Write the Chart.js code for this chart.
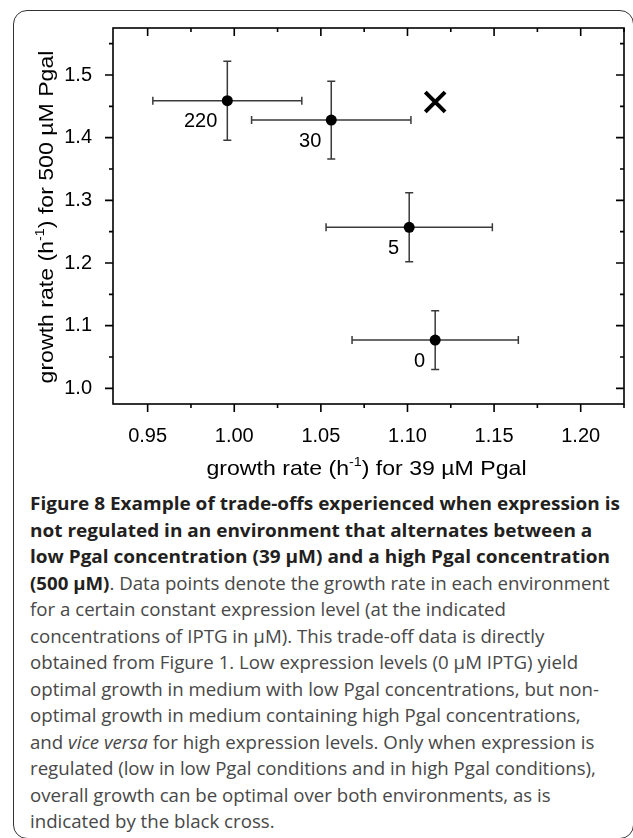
<!DOCTYPE html>
<html>
<head>
<meta charset="utf-8">
<script src="https://cdn.jsdelivr.net/npm/chart.js@4/dist/chart.umd.min.js"></script>
<style>
  html, body { margin: 0; padding: 0; background: #fff; }
  body { width: 633px; height: 838px; position: relative; overflow: hidden; }
  #box {
    position: absolute; left: 13px; top: 10px; width: 621px; height: 829px;
    box-sizing: border-box; border: 1.5px solid #333; border-radius: 14px;
  }
  #plot { position: absolute; left: 0; top: 0; }
  #caption {
    position: absolute; left: 30px; top: 490px;
    font-family: "Open Sans", sans-serif; font-size: 18px; line-height: 26.5px;
    color: #484848; white-space: nowrap;
  }
  #caption div { transform-origin: 0 50%; }
  #caption b { color: #231f20; font-weight: 700; }
  #caption .head { color: #231f20; font-weight: 700; }
</style>
</head>
<body>
<div id="box"></div>
<canvas id="plot" width="633" height="485"></canvas>
<div id="caption">
  <div class="head">Figure 8 Example of trade-offs experienced when expression is</div>
  <div class="head">not regulated in an environment that alternates between a</div>
  <div class="head">low Pgal concentration (39 μM) and a high Pgal concentration</div>
  <div><b>(500 μM)</b>. Data points denote the growth rate in each environment</div>
  <div>for a certain constant expression level (at the indicated</div>
  <div>concentrations of IPTG in μM). This trade-off data is directly</div>
  <div>obtained from Figure 1. Low expression levels (0 μM IPTG) yield</div>
  <div>optimal growth in medium with low Pgal concentrations, but non-</div>
  <div>optimal growth in medium containing high Pgal concentrations,</div>
  <div>and <i>vice versa</i> for high expression levels. Only when expression is</div>
  <div>regulated (low in low Pgal conditions and in high Pgal conditions),</div>
  <div>overall growth can be optimal over both environments, as is</div>
  <div>indicated by the black cross.</div>
</div>
<script>
// IPTG concentration (µM) for each measured point
const iptgLabels = ['220', '30', '5', '0'];
// growth rate (1/h) at 39 µM Pgal and at 500 µM Pgal
const growthLow = [0.996, 1.056, 1.101, 1.116];
const growthHigh = [1.459, 1.428, 1.257, 1.077];
const errLow = [0.043, 0.046, 0.048, 0.048];
const errHigh = [0.063, 0.062, 0.055, 0.047];
// regulated expression (the black cross)
const regulatedLow = [1.116];
const regulatedHigh = [1.457];

const xMajor = [0.95, 1.00, 1.05, 1.10, 1.15, 1.20];
const xMinor = [0.975, 1.025, 1.075, 1.125, 1.175, 1.225];
const yMajor = [1.0, 1.1, 1.2, 1.3, 1.4, 1.5];
const yMinor = [1.05, 1.15, 1.25, 1.35, 1.45, 1.55];

const FONT = '"Liberation Sans", Arial, sans-serif';

const errorBars = {
  id: 'errorBars',
  beforeDatasetsDraw(chart) {
    const ctx = chart.ctx, x = chart.scales.x, y = chart.scales.y;
    ctx.save();
    ctx.strokeStyle = '#3a3a3a';
    ctx.lineWidth = 1.5;
    const cap = 4;
    growthLow.forEach((gx, i) => {
      const px = x.getPixelForValue(gx), py = y.getPixelForValue(growthHigh[i]);
      const x0 = x.getPixelForValue(gx - errLow[i]), x1 = x.getPixelForValue(gx + errLow[i]);
      const y0 = y.getPixelForValue(growthHigh[i] - errHigh[i]), y1 = y.getPixelForValue(growthHigh[i] + errHigh[i]);
      ctx.beginPath();
      ctx.moveTo(x0, py); ctx.lineTo(x1, py);
      ctx.moveTo(x0, py - cap); ctx.lineTo(x0, py + cap);
      ctx.moveTo(x1, py - cap); ctx.lineTo(x1, py + cap);
      ctx.moveTo(px, y0); ctx.lineTo(px, y1);
      ctx.moveTo(px - cap, y0); ctx.lineTo(px + cap, y0);
      ctx.moveTo(px - cap, y1); ctx.lineTo(px + cap, y1);
      ctx.stroke();
    });
    ctx.restore();
  }
};

// text with a small raised "-1" after "(h"
function drawTitle(ctx, pre, post, stretch) {
  ctx.font = '21px ' + FONT;
  const w1 = ctx.measureText(pre).width;
  ctx.font = '13px ' + FONT;
  const ws = ctx.measureText('-1').width;
  ctx.font = '21px ' + FONT;
  const w2 = ctx.measureText(post).width;
  const total = w1 + ws + w2;
  ctx.scale(stretch, 1);
  ctx.textBaseline = 'alphabetic';
  ctx.textAlign = 'left';
  let cx = -total / 2;
  ctx.fillText(pre, cx, 0);
  cx += w1;
  ctx.font = '13px ' + FONT;
  ctx.fillText('-1', cx, -9);
  cx += ws;
  ctx.font = '21px ' + FONT;
  ctx.fillText(post, cx, 0);
}

const frame = {
  id: 'frame',
  afterDraw(chart) {
    const ctx = chart.ctx, a = chart.chartArea, x = chart.scales.x, y = chart.scales.y;
    ctx.save();
    ctx.strokeStyle = '#000';
    ctx.lineWidth = 1.6;
    ctx.strokeRect(a.left, a.top, a.right - a.left, a.bottom - a.top);
    ctx.beginPath();
    const tick = (v, len) => {
      const px = x.getPixelForValue(v);
      if (px < a.left - 0.5 || px > a.right + 0.5) return;
      ctx.moveTo(px, a.bottom); ctx.lineTo(px, a.bottom + len);
      ctx.moveTo(px, a.top); ctx.lineTo(px, a.top + len);
    };
    const ytick = (v, len) => {
      const py = y.getPixelForValue(v);
      if (py < a.top - 0.5 || py > a.bottom + 0.5) return;
      ctx.moveTo(a.left, py); ctx.lineTo(a.left - len, py);
      ctx.moveTo(a.right, py); ctx.lineTo(a.right - len, py);
    };
    xMajor.forEach(v => tick(v, 8));
    xMinor.forEach(v => tick(v, 4));
    yMajor.forEach(v => ytick(v, 8));
    yMinor.forEach(v => ytick(v, 4));
    ctx.stroke();

    // concentration labels below-left of each point
    ctx.fillStyle = '#000';
    ctx.font = '20px ' + FONT;
    ctx.textAlign = 'right';
    ctx.textBaseline = 'middle';
    iptgLabels.forEach((t, i) => {
      ctx.fillText(t, x.getPixelForValue(growthLow[i]) - 10, y.getPixelForValue(growthHigh[i]) + 21);
    });

    // axis titles
    ctx.save();
    ctx.translate((a.left + a.right) / 2 - 2, 475);
    drawTitle(ctx, 'growth rate (h', ') for 39 \u00b5M Pgal', 1.1);
    ctx.restore();
    ctx.save();
    ctx.translate(53, 217);
    ctx.rotate(-Math.PI / 2);
    drawTitle(ctx, 'growth rate (h', ') for 500 \u00b5M Pgal', 1.1);
    ctx.restore();
    ctx.restore();
  }
};

new Chart(document.getElementById('plot'), {
  type: 'scatter',
  data: {
    datasets: [{
      data: growthLow.map((v, i) => ({ x: v, y: growthHigh[i] })),
      pointRadius: 5.5,
      pointBackgroundColor: '#000',
      pointBorderColor: '#000',
      pointBorderWidth: 0
    }, {
      data: regulatedLow.map((v, i) => ({ x: v, y: regulatedHigh[i] })),
      pointStyle: 'crossRot',
      pointRadius: 14,
      pointBorderWidth: 4,
      pointBorderColor: '#000'
    }]
  },
  options: {
    responsive: false,
    animation: false,
    devicePixelRatio: 1,
    layout: { autoPadding: false, padding: { top: 28, right: 9, left: 0, bottom: 0 } },
    plugins: { legend: { display: false }, tooltip: { enabled: false } },
    scales: {
      x: {
        type: 'linear', min: 0.93, max: 1.225,
        afterBuildTicks: s => { s.ticks = xMajor.map(v => ({ value: v })); },
        afterFit: s => { s.height = 81; },
        grid: { display: false }, border: { display: false },
        ticks: { font: { family: FONT, size: 20 }, color: '#000', padding: 12, maxRotation: 0,
                 callback: v => v.toFixed(2) }
      },
      y: {
        type: 'linear', min: 0.975, max: 1.575,
        afterBuildTicks: s => { s.ticks = yMajor.map(v => ({ value: v })); },
        afterFit: s => { s.width = 113; },
        grid: { display: false }, border: { display: false },
        ticks: { font: { family: FONT, size: 20 }, color: '#000', padding: 13,
                 callback: v => v.toFixed(1) }
      }
    }
  },
  plugins: [errorBars, frame]
});

// fit caption lines to the column width
(function () {
  const lines = document.querySelectorAll('#caption div');
  const headScale = 590 / lines[0].getBoundingClientRect().width;
  const bodyScale = 580 / lines[10].getBoundingClientRect().width;
  lines.forEach((el, i) => {
    el.style.transform = 'scaleX(' + (i < 3 ? headScale : bodyScale) + ')';
  });
})();
</script>
</body>
</html>
